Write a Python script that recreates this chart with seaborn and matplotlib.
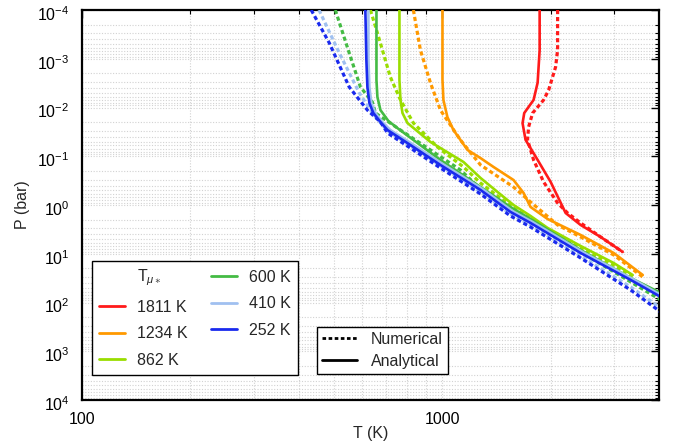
import numpy as np
import pandas as pd
import matplotlib
matplotlib.use("Agg")
import matplotlib.pyplot as plt
import seaborn as sns
from matplotlib.lines import Line2D
from matplotlib.ticker import FixedLocator, NullFormatter, FixedFormatter
import matplotlib.transforms as mtransforms

# ---------------- data (T in K, P in bar) ----------------
t_star = [1811, 1234, 862, 600, 410, 252]
colors = ["#ff1a1a", "#ff9900", "#99dd00", "#44bb44", "#a0c0f0", "#1a2aee"]

# 1811 K
T_1811_ana = [1865, 1865, 1841, 1794, 1690, 1672, 1704, 1841, 2001, 2202, 2424, 2755, 3172]
P_1811_ana = [1e-4, 6.6e-4, 3.1e-3, 7e-3, 0.013, 0.021, 0.046, 0.119, 0.337, 1.46, 2.57, 4.53, 9.2]
T_1811_num = [2092, 2092, 2065, 1975, 1913, 1783, 1738, 1726, 1794, 1913, 2092, 2230, 2424, 2755, 3172]
P_1811_num = [1e-4, 6.6e-4, 1.48e-3, 4.4e-3, 7e-3, 0.013, 0.025, 0.046, 0.119, 0.337, 0.91, 1.46, 2.34, 4.53, 9.2]

# 1234 K
T_1234_ana = [1002, 1002, 1008, 1034, 1075, 1176, 1278, 1389, 1578, 1683, 1760, 1963, 2424, 2995, 3606]
P_1234_ana = [1e-4, 2.7e-3, 7e-3, 0.0157, 0.029, 0.0744, 0.109, 0.166, 0.307, 0.567, 1.10, 1.94, 4.12, 9.66, 27.3]
T_1234_num = [832, 870, 928, 989, 1124, 1278, 1578, 1760, 2092, 2424, 2995, 3606]
P_1234_num = [1e-4, 6.6e-4, 3.14e-3, 0.0113, 0.0464, 0.151, 0.428, 0.867, 2.57, 4.53, 10.6, 30]

# 862 K
T_862_ana = [761, 761, 766, 776, 801, 928, 1146, 1278, 1425, 1578, 1760, 1963, 2424, 2995, 3381]
P_862_ana = [1e-4, 2.73e-3, 7e-3, 0.013, 0.0208, 0.051, 0.131, 0.279, 0.541, 1.0, 1.68, 2.96, 6.93, 15.5, 27.3]
T_862_num = [632, 661, 718, 766, 832, 970, 1146, 1278, 1578, 1963, 2424, 2995, 3381]
P_862_num = [1e-4, 2.96e-4, 2.37e-3, 7e-3, 0.0208, 0.0646, 0.166, 0.354, 1.15, 3.26, 7.62, 17.0, 30]

# 600 K
T_600_ana = [657, 657, 661, 674, 709, 751, 854, 989, 1278, 1548, 1760, 2424, 3338, 4046]
P_600_ana = [1e-4, 2.73e-3, 6.09e-3, 0.0113, 0.0189, 0.0264, 0.0535, 0.119, 0.428, 1.10, 1.94, 8.38, 31.4, 63.8]
T_600_num = [505, 552, 593, 640, 653, 766, 928, 1124, 1278, 1548, 1760, 2424, 3338, 4046]
P_600_num = [1e-4, 7.6e-4, 3.8e-3, 7.7e-3, 0.013, 0.029, 0.0744, 0.191, 0.47, 1.27, 2.13, 9.2, 37.9, 88.9]

# 410 K
T_410_ana = [624, 624, 628, 636, 653, 682, 718, 826, 1002, 1294, 1567, 1782, 2455, 3381, 4046]
P_410_ana = [1e-4, 1e-3, 3.8e-3, 8.1e-3, 0.013, 0.0198, 0.029, 0.056, 0.143, 0.47, 1.33, 2.23, 9.2, 33, 70]
T_410_num = [455, 518, 589, 640, 705, 816, 989, 1278, 1548, 1760, 2424, 3338, 4046]
P_410_num = [1e-4, 7.6e-4, 5.04e-3, 0.013, 0.0303, 0.0617, 0.158, 0.541, 1.53, 2.57, 11.1, 48.1, 130]

# 252 K
T_252_ana = [612, 616, 620, 628, 644, 674, 705, 816, 989, 1278, 1548, 1760, 2424, 3338, 4046]
P_252_ana = [1e-4, 1.06e-3, 3.8e-3, 8.1e-3, 0.013, 0.0198, 0.029, 0.0588, 0.151, 0.492, 1.39, 2.34, 9.66, 34.5, 77]
T_252_num = [433, 486, 552, 620, 674, 705, 816, 989, 1278, 1548, 1760, 2424, 3338, 4046]
P_252_num = [1e-4, 4.75e-4, 3.8e-3, 0.0113, 0.0198, 0.0333, 0.0678, 0.174, 0.594, 1.68, 2.83, 12.2, 55.5, 157]

curves = [
    (T_1811_ana, P_1811_ana, T_1811_num, P_1811_num),
    (T_1234_ana, P_1234_ana, T_1234_num, P_1234_num),
    (T_862_ana, P_862_ana, T_862_num, P_862_num),
    (T_600_ana, P_600_ana, T_600_num, P_600_num),
    (T_410_ana, P_410_ana, T_410_num, P_410_num),
    (T_252_ana, P_252_ana, T_252_num, P_252_num),
]

x_ticks = [100, 1000]
x_ticklabels = ["100", "1000"]
y_decades = list(range(-4, 5))

# ---------------- style ----------------
sns.set_style("white")
plt.rcParams["font.family"] = ["Liberation Sans", "DejaVu Sans"]
plt.rcParams["mathtext.fontset"] = "custom"
plt.rcParams["mathtext.rm"] = "Liberation Sans"
plt.rcParams["mathtext.it"] = "Liberation Sans:italic"
plt.rcParams["font.size"] = 11.5

fig = plt.figure(figsize=(6.83, 4.41), dpi=100)
ax = fig.add_axes([82 / 683, 1 - 400 / 441, 577 / 683, 390 / 441])

dot_ls = (0, (1.3, 0.9))
for (Ta, Pa, Tn, Pn), c in zip(curves, colors):
    sns.lineplot(x=Tn, y=Pn, ax=ax, sort=False, estimator=None, color=c,
                 linewidth=2.3, linestyle=dot_ls, zorder=3)
    sns.lineplot(x=Ta, y=Pa, ax=ax, sort=False, estimator=None, color=c,
                 linewidth=1.9, zorder=4)

ax.set_xscale("log")
ax.set_yscale("log")
ax.set_xlim(100, 4000)
ax.set_ylim(1e4, 1e-4)

x_minor = [m * 10.0 ** d for d in (2, 3) for m in range(2, 10) if m * 10.0 ** d < 4000]
y_major = [10.0 ** d for d in y_decades]
y_minor = [m * 10.0 ** d for d in y_decades[:-1] for m in range(2, 10)]

ax.xaxis.set_major_locator(FixedLocator(x_ticks))
ax.xaxis.set_major_formatter(FixedFormatter(x_ticklabels))
ax.xaxis.set_minor_locator(FixedLocator(x_minor))
ax.xaxis.set_minor_formatter(NullFormatter())
ax.yaxis.set_major_locator(FixedLocator(y_major))
ax.yaxis.set_major_formatter(FixedFormatter(
    [r"$\mathdefault{10^{%d}}$" % d for d in y_decades]))
ax.yaxis.set_minor_locator(FixedLocator(y_minor))
ax.yaxis.set_minor_formatter(NullFormatter())

ax.grid(True, which="both", color="#d2d2d2", linestyle=(0, (1, 1.5)), linewidth=0.8, zorder=0)
ax.set_axisbelow(True)

ax.tick_params(which="both", direction="in", top=True, right=True, colors="black")
ax.tick_params(which="major", length=6, width=1, labelsize=11.5, pad=9)
ax.tick_params(which="minor", length=3, width=0.8)
for s in ax.spines.values():
    s.set_linewidth(1.6)
    s.set_color("black")

# shift y tick labels slightly down (like the reference)
offset = mtransforms.ScaledTranslation(0, -3 / 100, fig.dpi_scale_trans)
for lab in ax.get_yticklabels():
    lab.set_transform(lab.get_transform() + offset)

ax.set_xlabel("T (K)", fontsize=11.5, labelpad=-1)
ax.set_ylabel("P (bar)", fontsize=11.5, labelpad=5)

# legend 1 (T_mu*)
h1 = [Line2D([], [], color="none")] + [Line2D([], [], color=c, lw=2) for c in colors]
l1 = [r"T$_{\mu\ast}$"] + [f"{t} K" for t in t_star]
leg1 = ax.legend(h1, l1, ncol=2, loc="lower left", bbox_to_anchor=(0.017, 0.064),
                 frameon=True, fancybox=False, framealpha=1, edgecolor="black",
                 handlelength=1.6, handletextpad=0.75, columnspacing=1.5,
                 labelspacing=0.72, borderpad=0.45, fontsize=11.5, borderaxespad=0)
leg1.get_frame().set_linewidth(1.0)
ax.add_artist(leg1)

h2 = [Line2D([], [], color="black", lw=2, linestyle=(0, (1.3, 0.9))),
      Line2D([], [], color="black", lw=2)]
leg2 = ax.legend(h2, ["Numerical", "Analytical"], loc="lower left",
                 bbox_to_anchor=(0.407, 0.067), frameon=True, fancybox=False,
                 framealpha=1, edgecolor="black", handlelength=2.2,
                 handletextpad=0.9, labelspacing=0.45, borderpad=0.3,
                 fontsize=11.5, borderaxespad=0)
leg2.get_frame().set_linewidth(1.0)

fig.savefig("out.png", dpi=100)
